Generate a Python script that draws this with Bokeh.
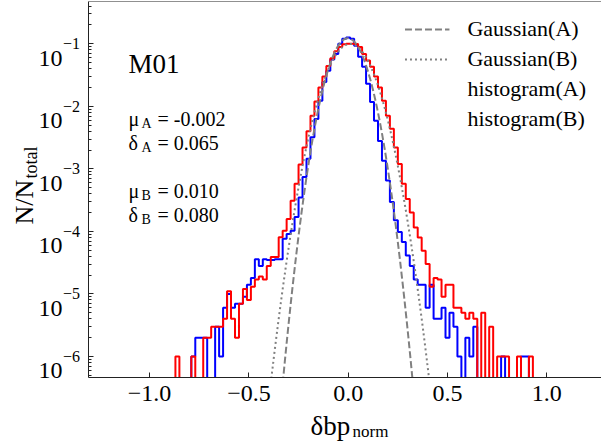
import numpy as np
from bokeh.plotting import figure
from bokeh.models import Range1d, Legend, LegendItem, Label, Span, FixedTicker
from bokeh.core.properties import value
from bokeh.embed import file_html
from bokeh.resources import INLINE

FONT = "Liberation Serif"

# ---------------- data ----------------
bin_width = 0.02
bin_centers = [round(-0.86 + 0.02 * i, 2) for i in range(90)]  # -0.86 ... 0.92

hist_a = [
    0, 0, 0, 0, 1e-6, 2e-6, 2e-6, 2e-6, 0, 0,                       # -0.86 .. -0.68
    3e-6, 1e-6, 6e-6, 1.0e-5, 6e-6, 7e-6, 7e-6, 9e-6, 1.4e-5, 1.8e-5,  # -0.66 .. -0.48
    3.6e-5, 2.8e-5, 3.6e-5, 3.5e-5, 3.5e-5, 3.6e-5, 3.6e-5, 7.6e-5, 9.1e-5, 1.02e-4,  # -0.46 .. -0.28
    1.7e-4, 3.5e-4, 7.4e-4, 1.45e-3, 3.2e-3, 6.3e-3, 1.23e-2, 2.45e-2, 3.7e-2, 5.6e-2,  # -0.26 .. -0.08
    6.9e-2, 1.0e-1, 1.2e-1, 1.26e-1, 1.2e-1, 9.3e-2, 6.2e-2, 4.3e-2, 2.3e-2, 1.17e-2,  # -0.06 .. 0.12
    5.9e-3, 2.8e-3, 1.35e-3, 6.5e-4, 2.95e-4, 1.51e-4, 9.8e-5, 6.8e-5, 4.1e-5, 2.8e-5,  # 0.14 .. 0.32
    1.7e-5, 1.4e-5, 1.4e-5, 6e-6, 1.4e-5, 4e-6, 4e-6, 6e-6, 2e-6, 5e-6,   # 0.34 .. 0.52
    3e-6, 1e-6, 0, 2e-6, 1e-6, 3e-6, 0, 0, 0, 0,                        # 0.54 .. 0.72
    0, 0, 1e-6, 0, 0, 0, 0, 1e-6, 1e-6, 0,                              # 0.74 .. 0.92
]

hist_b = [
    1e-6, 0, 0, 0, 1e-6, 0, 0, 2e-6, 2e-6, 3e-6,                       # -0.86 .. -0.68
    3e-6, 3e-6, 4e-6, 1.1e-5, 4e-6, 2e-6, 7e-6, 1.2e-5, 8e-6, 1.3e-5,  # -0.66 .. -0.48
    1.7e-5, 1.9e-5, 1.7e-5, 2.8e-5, 3.9e-5, 3.9e-5, 8.1e-5, 1.02e-4, 1.58e-4, 3.1e-4,  # -0.46 .. -0.28
    5.8e-4, 1.17e-3, 2.2e-3, 4.0e-3, 7.1e-3, 1.2e-2, 2.0e-2, 3.0e-2, 4.4e-2, 5.9e-2,  # -0.26 .. -0.08
    7.6e-2, 8.9e-2, 9.8e-2, 1.0e-1, 1.0e-1, 9.9e-2, 8.9e-2, 6.9e-2, 5.4e-2, 4.3e-2,  # -0.06 .. 0.12
    3.0e-2, 2.0e-2, 1.23e-2, 7.1e-3, 4.4e-3, 2.2e-3, 1.2e-3, 5.8e-4, 3.3e-4, 2.0e-4,  # 0.14 .. 0.32
    1.16e-4, 8.0e-5, 4.9e-5, 3.0e-5, 1.3e-5, 1.8e-5, 1.7e-5, 9e-6, 1.4e-5, 1.4e-5,  # 0.34 .. 0.52
    6e-6, 6e-6, 5e-6, 4e-6, 5e-6, 4e-6, 0, 5e-6, 0, 3e-6,              # 0.54 .. 0.72
    0, 1e-6, 1e-6, 1e-6, 0, 0, 1e-6, 0, 0, 1e-6,                        # 0.74 .. 0.92
]

mu_a, sigma_a = -0.002, 0.065
mu_b, sigma_b = 0.010, 0.080
x_ticks = [-1.0, -0.5, 0.0, 0.5, 1.0]
x_tick_labels = ["\u22121.0", "\u22120.5", "0.0", "0.5", "1.0"]
y_tick_exponents = [-6, -5, -4, -3, -2, -1]

# ---------------- geometry ----------------
FRAME_L, FRAME_T, FRAME_B = 88, 1, 377
X_MIN, X_MAX = -1.3077, 1.2755
Y_MIN, Y_MAX = 4.61e-7, 0.475
FLOOR = 1e-9  # empty bins are drawn down past the bottom of the axes


def step_outline(centers, vals):
    xs, ys = [centers[0] - bin_width / 2], [FLOOR]
    for c, v in zip(centers, vals):
        vv = v if v > 0 else FLOOR
        xs += [c - bin_width / 2, c + bin_width / 2]
        ys += [vv, vv]
    xs.append(centers[-1] + bin_width / 2)
    ys.append(FLOOR)
    return xs, ys


def gaussian(mu, sigma, x):
    g = bin_width / (np.sqrt(2 * np.pi) * sigma) * np.exp(-(x - mu) ** 2 / (2 * sigma ** 2))
    return np.maximum(g, FLOOR)


p = figure(width=601, height=441, y_axis_type="log",
           x_range=Range1d(X_MIN, X_MAX), y_range=Range1d(Y_MIN, Y_MAX),
           output_backend="svg", toolbar_location=None,
           min_border_left=FRAME_L, min_border_right=0,
           min_border_top=FRAME_T, min_border_bottom=441 - FRAME_B)
p.outline_line_color = None
p.grid.visible = False
p.background_fill_color = "white"
p.border_fill_color = "white"

# axes
for ax in (p.xaxis, p.yaxis):
    ax.axis_line_color = "#222222"
    ax.axis_line_width = 1
    ax.major_tick_line_color = "#222222"
    ax.minor_tick_line_color = "#222222"
    ax.major_tick_out = 0
    ax.minor_tick_out = 0
p.xaxis.ticker = FixedTicker(ticks=x_ticks)
p.xaxis.major_label_overrides = {t: l for t, l in zip(x_ticks, x_tick_labels)}
p.xaxis.major_tick_in = 5
p.xaxis.minor_tick_line_color = None
p.xaxis.major_label_text_font = FONT
p.xaxis.major_label_text_font_size = "24px"
p.xaxis.major_label_text_color = "black"
p.xaxis.major_label_standoff = 8
p.yaxis.major_tick_in = 5
p.yaxis.minor_tick_in = 3
p.yaxis.major_label_text_color = None
p.yaxis.major_label_text_font_size = "10px"

p.add_layout(Span(location=Y_MAX, dimension="width", line_color="#222222", line_width=1))

# histograms
xa, ya = step_outline(bin_centers, hist_a)
xb, yb = step_outline(bin_centers, hist_b)
p.line(xa, ya, line_color="blue", line_width=2)
p.line(xb, yb, line_color="red", line_width=2)

# gaussians
xg = np.linspace(-1.3, 1.3, 2601)
ga = p.line(xg, gaussian(mu_a, sigma_a, xg), line_color="gray", line_width=2, line_dash="7 3")
gb = p.line(xg, gaussian(mu_b, sigma_b, xg), line_color="gray", line_width=2, line_dash="2 3")

# legend proxies
ha = p.quad(left=[], right=[], top=[], bottom=[], fill_color=None, line_color="blue", line_width=2)
hb = p.quad(left=[], right=[], top=[], bottom=[], fill_color=None, line_color="red", line_width=2)

legend = Legend(items=[
    LegendItem(label="Gaussian(A)", renderers=[ga]),
    LegendItem(label="Gaussian(B)", renderers=[gb]),
    LegendItem(label="histogram(A)", renderers=[ha]),
    LegendItem(label="histogram(B)", renderers=[hb]),
], location="top_right")
legend.label_text_font = FONT
legend.label_text_font_size = "22px"
legend.label_text_color = "black"
legend.glyph_width = 45
legend.glyph_height = 14
legend.label_height = 24
legend.label_standoff = 18
legend.spacing = 4
legend.padding = 8
legend.margin = 15
legend.border_line_color = None
legend.background_fill_alpha = 0
p.add_layout(legend)


def lab(x, y, text, size):
    # x, y: page pixels (origin top-left, y = text baseline), converted to frame units
    p.add_layout(Label(x=x - FRAME_L, y=FRAME_B - y, x_units="screen", y_units="screen",
                       text=text, text_font=FONT, text_font_size=f"{size}px",
                       text_baseline="alphabetic", text_color="black"))


def outside_text(xs, ys, texts, dx, dy, size, angle=0.0, align="left"):
    # text outside the frame: anchored at data points, shifted in pixels
    p.text(x=xs, y=ys, text=texts, x_offset=dx, y_offset=dy, angle=angle,
           text_align=align, text_baseline="alphabetic", text_font=value(FONT),
           text_font_size=f"{size}px", text_color="black", level="overlay")


# y tick labels 10^n
y_ticks = [10.0 ** e for e in y_tick_exponents]
outside_text([X_MIN] * len(y_ticks), y_ticks, ["10"] * len(y_ticks), -26, 14.5, 24, align="right")
outside_text([X_MIN] * len(y_ticks), y_ticks,
             [str(e).replace("-", "\u2212") for e in y_tick_exponents], -25.5, 0, 16)

# axis titles
outside_text([X_MIN], [Y_MIN], ["\u03b4bp"], 310 - FRAME_L, 425 - FRAME_B, 27)
outside_text([X_MIN], [Y_MIN], ["norm"], 352 - FRAME_L, 431 - FRAME_B, 17)
outside_text([X_MIN], [Y_MIN], ["N/N"], 24 - FRAME_L, 224 - FRAME_B, 26, angle=np.pi / 2)
outside_text([X_MIN], [Y_MIN], ["total"], 30 - FRAME_L, 178 - FRAME_B, 18, angle=np.pi / 2)

# annotations inside the axes
lab(128, 63, "M01", 27)
rows = [("\u03bc", "A", "= -0.002", 118), ("\u03b4", "A", "= 0.065", 142),
        ("\u03bc", "B", "= 0.010", 190), ("\u03b4", "B", "= 0.080", 214)]
for sym, sub, rest, base in rows:
    lab(128, base, sym, 20)
    lab(141, base + 5, sub, 14)
    lab(157, base, rest, 20)

open("out.html", "w").write(file_html(p, INLINE))
